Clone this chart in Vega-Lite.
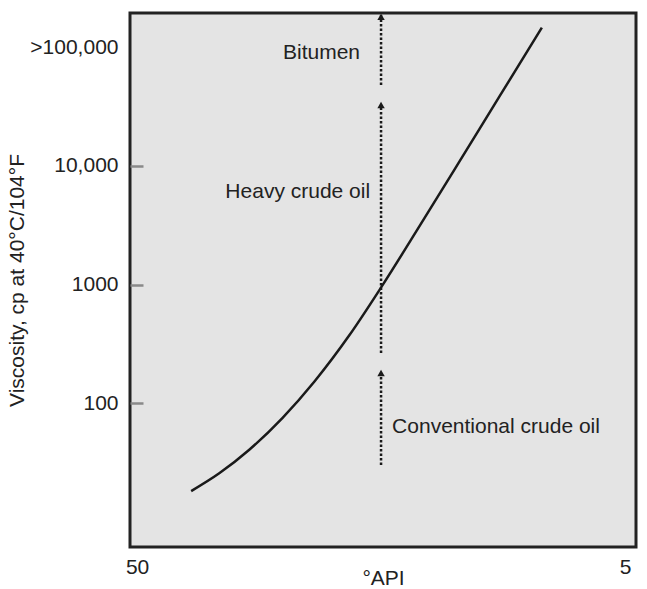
{
  "$schema": "https://vega.github.io/schema/vega-lite/v6.json",
  "width": 506,
  "height": 534,
  "autosize": {"type": "none"},
  "padding": {"left": 130, "top": 13, "right": 11, "bottom": 42},
  "background": "white",
  "config": {
    "view": {"stroke": "#222222", "strokeWidth": 3, "fill": "#e4e4e4"},
    "font": "Liberation Sans",
    "axis": {"labelFont": "Liberation Sans", "titleFont": "Liberation Sans", "labelColor": "#222", "titleColor": "#222", "labelFontSize": 21, "titleFontSize": 21, "titleFontWeight": "normal", "domain": false, "grid": false}
  },
  "datasets": {
    "curve": [
      {"api": 45.01, "v": 18.2},
      {"api": 42.42, "v": 25.7},
      {"api": 39.65, "v": 40.6},
      {"api": 36.60, "v": 75.0},
      {"api": 33.64, "v": 152.6},
      {"api": 30.41, "v": 375.6},
      {"api": 27.45, "v": 960},
      {"api": 23.94, "v": 3120},
      {"api": 20.25, "v": 10960},
      {"api": 16.55, "v": 38900},
      {"api": 12.67, "v": 146000}
    ],
    "arrows": [
      {"api": 27.5, "v": 48000, "v2": 190000, "tip": 180000},
      {"api": 27.5, "v": 265, "v2": 30700, "tip": 32600},
      {"api": 27.5, "v": 30.2, "v2": 170, "tip": 180}
    ],
    "labels": [
      {"label": "Bitumen", "api": 29.44, "v": 89300, "side": "right"},
      {"label": "Heavy crude oil", "api": 28.51, "v": 6030, "side": "right"},
      {"label": "Conventional crude oil", "api": 26.48, "v": 63.2, "side": "left"}
    ]
  },
  "encoding": {
    "x": {
      "field": "api", "type": "quantitative",
      "scale": {"domain": [3.99, 50.65], "reverse": true, "nice": false, "zero": false},
      "axis": {"values": [50, 5], "ticks": false, "labelPadding": 9, "title": "°API", "titlePadding": -10, "labelFlush": false}
    },
    "y": {
      "field": "v", "type": "quantitative",
      "scale": {"type": "log", "domain": [6.15, 194000], "nice": false},
      "axis": {
        "values": [100, 1000, 10000, 100000],
        "labelExpr": "datum.value >= 100000 ? '>100,000' : datum.value >= 10000 ? '10,000' : datum.value >= 1000 ? '1000' : '100'",
        "tickSize": -13,
        "tickWidth": 2.5,
        "tickColor": {"condition": {"test": "datum.value >= 100000", "value": "transparent"}, "value": "#8a8a8a"},
        "labelPadding": 25,
        "title": "Viscosity, cp at 40°C/104°F",
        "titlePadding": 2
      }
    }
  },
  "layer": [
    {
      "data": {"name": "curve"},
      "mark": {"type": "line", "color": "#1a1a1a", "strokeWidth": 2.5, "interpolate": "monotone"}
    },
    {
      "data": {"name": "arrows"},
      "mark": {"type": "rule", "color": "#1a1a1a", "strokeWidth": 2.5, "strokeDash": [2.5, 2]},
      "encoding": {"y2": {"field": "v2"}}
    },
    {
      "data": {"name": "arrows"},
      "mark": {"type": "point", "shape": "triangle-up", "filled": true, "color": "#1a1a1a", "size": 55, "opacity": 1},
      "encoding": {"y": {"field": "tip", "type": "quantitative"}}
    },
    {
      "data": {"name": "labels"},
      "transform": [{"filter": "datum.side === 'right'"}],
      "mark": {"type": "text", "align": "right", "baseline": "middle", "fontSize": 21, "color": "#222", "font": "Liberation Sans"},
      "encoding": {"text": {"field": "label"}}
    },
    {
      "data": {"name": "labels"},
      "transform": [{"filter": "datum.side === 'left'"}],
      "mark": {"type": "text", "align": "left", "baseline": "middle", "fontSize": 21, "color": "#222", "font": "Liberation Sans"},
      "encoding": {"text": {"field": "label"}}
    }
  ]
}
